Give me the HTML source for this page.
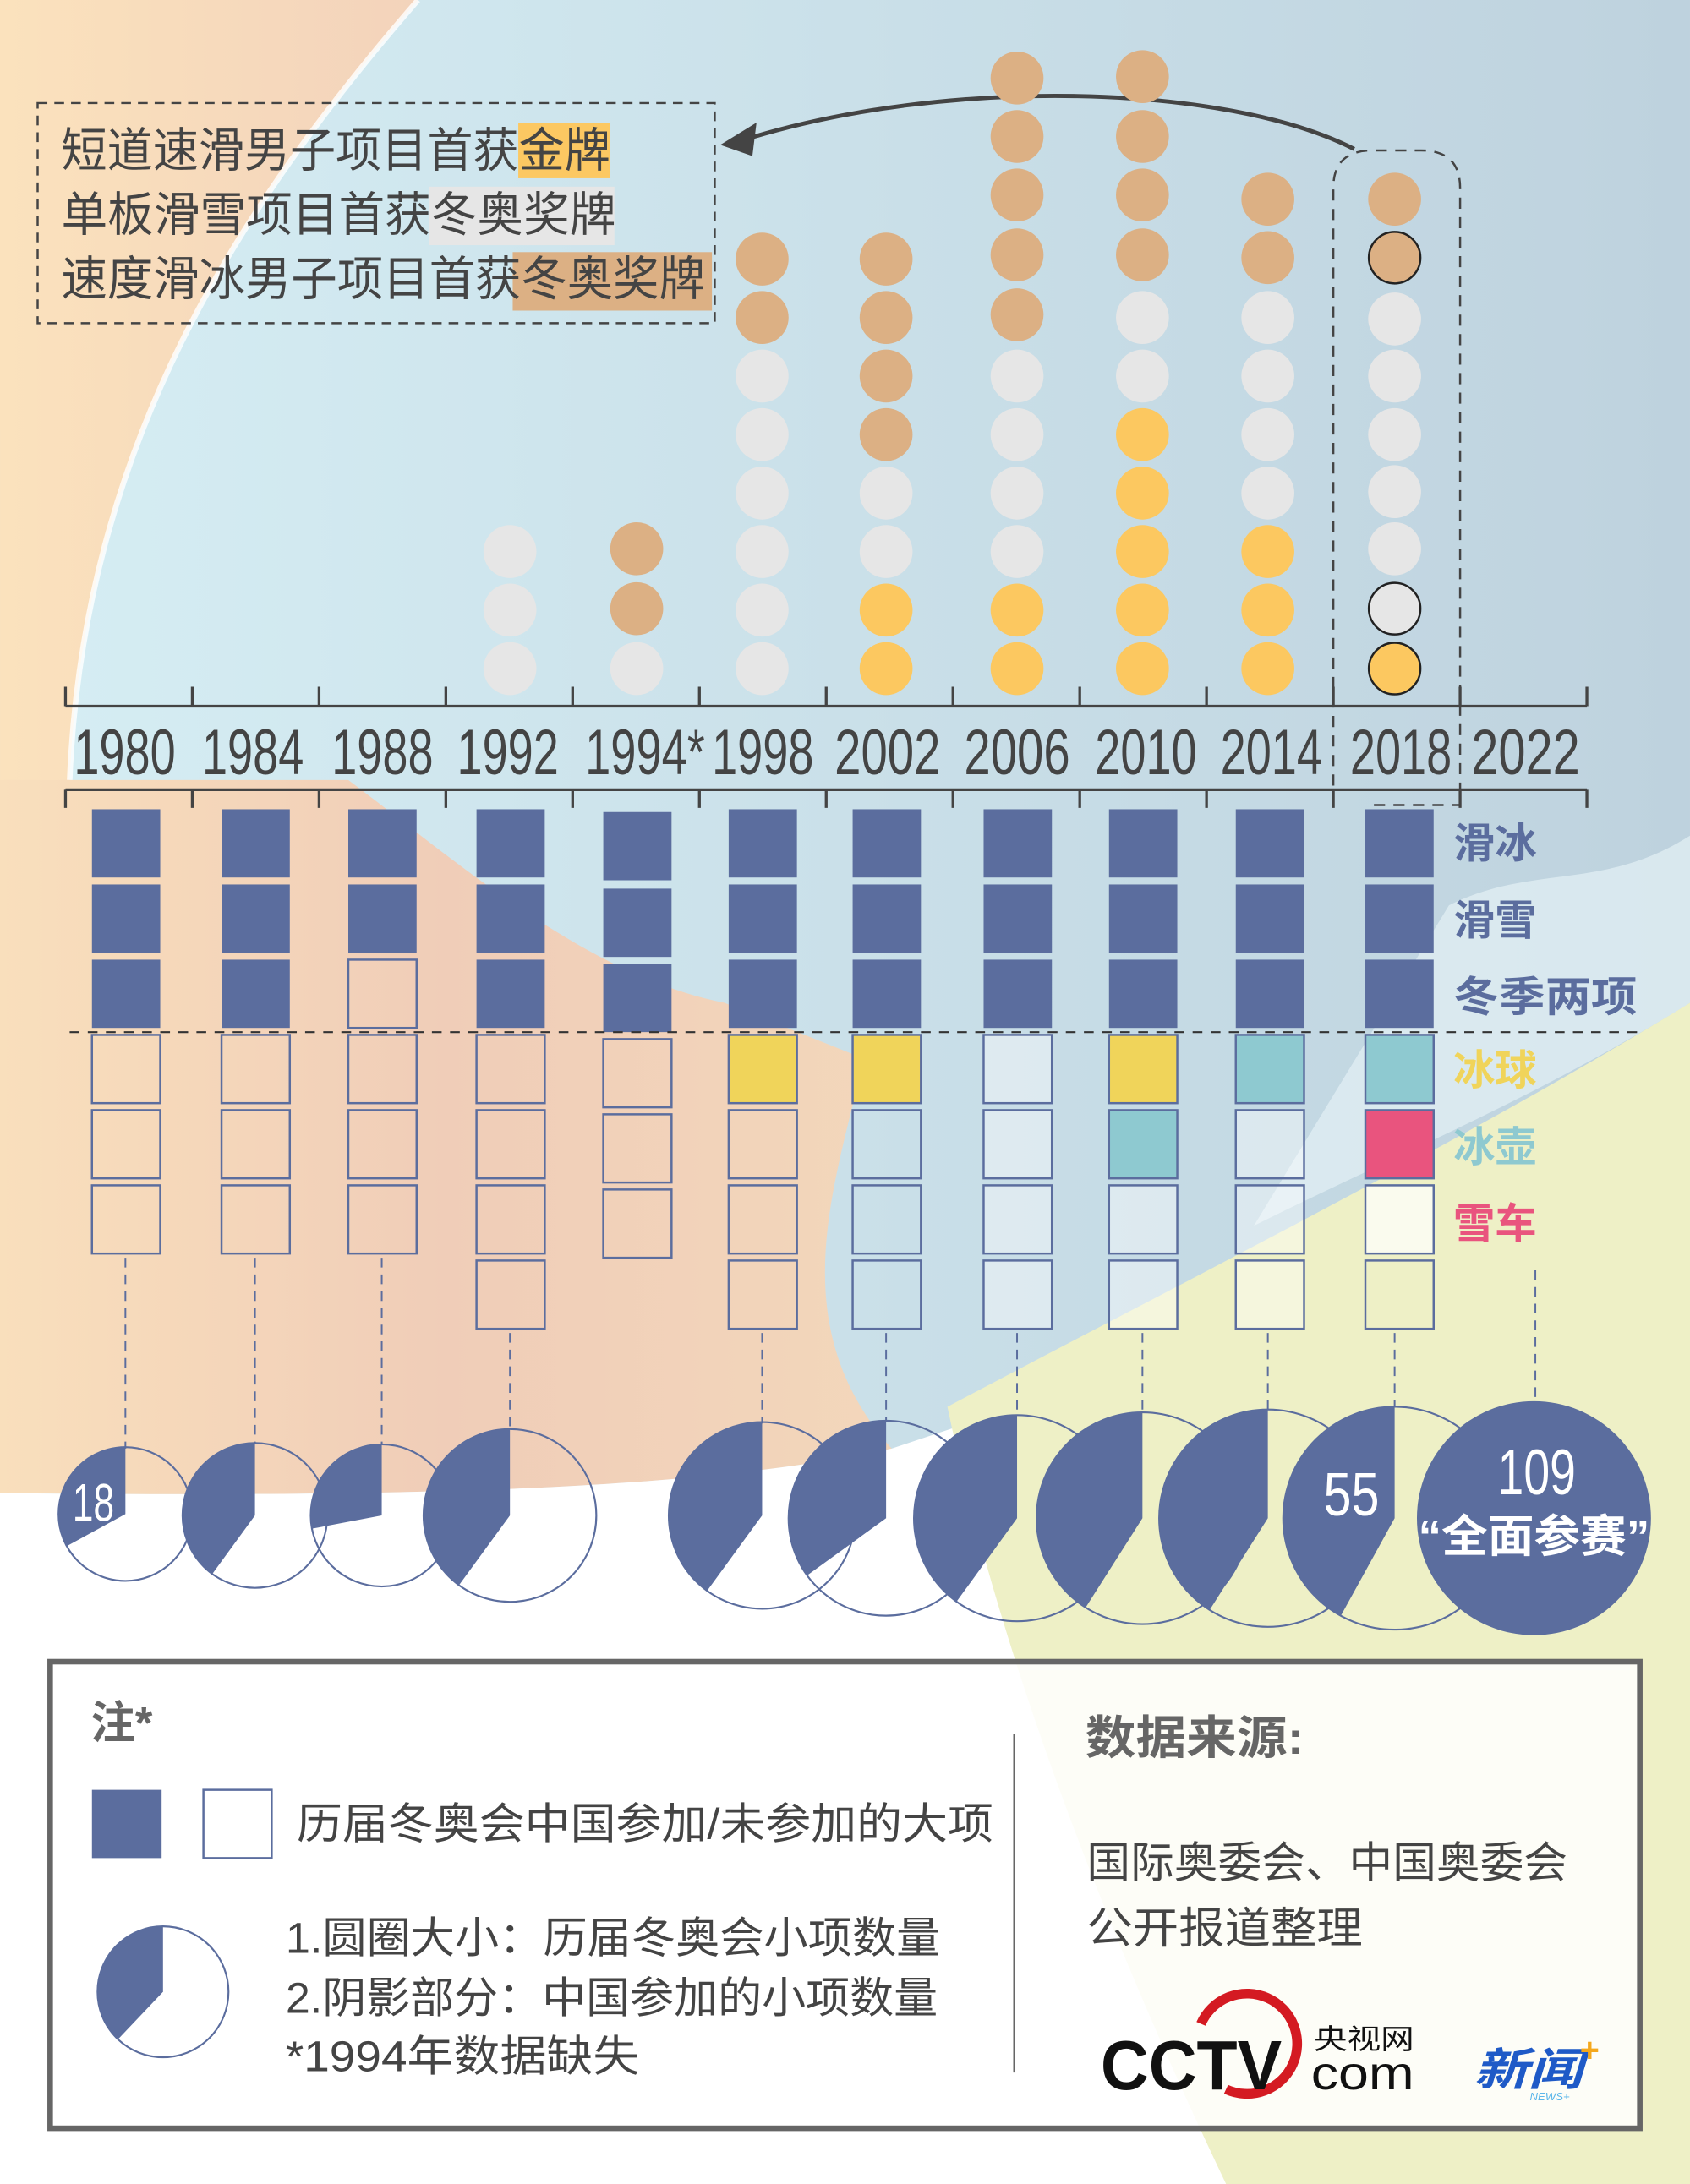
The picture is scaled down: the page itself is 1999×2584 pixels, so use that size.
<!DOCTYPE html>
<html><head><meta charset="utf-8">
<style>html,body{margin:0;padding:0;background:#fff}svg{display:block}</style>
</head><body>
<svg width="1999" height="2584" viewBox="0 0 1213 1568" xmlns="http://www.w3.org/2000/svg" font-family="'Liberation Sans','Noto Sans CJK SC',sans-serif">
<defs>
<linearGradient id="bg" x1="0" x2="1" y1="0" y2="0"><stop offset="0" stop-color="#d6eef4"/><stop offset="1" stop-color="#bed2de"/></linearGradient>
<linearGradient id="pe" x1="0" x2="1"><stop offset="0" stop-color="#fbe2bd"/><stop offset="1" stop-color="#f3d3bb"/></linearGradient>
<linearGradient id="pe2" x1="0" x2="1"><stop offset="0" stop-color="#f9dfbc"/><stop offset="0.5" stop-color="#f0cdb8"/><stop offset="1" stop-color="#f3d7bb"/></linearGradient>
</defs>
<rect width="1213" height="1568" fill="url(#bg)"/>
<!-- peach left strip -->
<path d="M0 0 L300 0 C170 150 60 320 50 560 C45 760 50 900 30 1080 L0 1080 Z" fill="url(#pe)"/>
<path d="M300 0 C170 150 60 320 50 560" fill="none" stroke="#fff" stroke-width="4" opacity="0.8"/>
<!-- lower left peach -->
<path d="M0 560 L250 560 C330 620 420 700 520 720 L620 760 C600 850 560 950 640 1040 C500 1070 300 1075 0 1072 Z" fill="url(#pe2)"/>
<!-- white bottom -->
<path d="M0 1072 C300 1075 500 1070 640 1040 L760 1000 L1213 1000 L1213 1568 L0 1568 Z" fill="#fff"/>
<!-- yellow-green -->
<path d="M680 1010 C850 920 1050 820 1213 720 L1213 1568 L880 1568 C800 1400 720 1200 680 1010 Z" fill="#eef0c6"/>
<path d="M1040 650 C1100 620 1150 640 1213 600 L1213 720 C1100 790 1000 830 900 880 Z" fill="#e4f1f5" opacity="0.7"/>

<!-- annotation -->
<rect x="27" y="74" width="486" height="158" fill="none" stroke="#444" stroke-width="1.5" stroke-dasharray="7 5"/>
<rect x="372" y="88" width="66" height="40" fill="#fcc862"/>
<rect x="308" y="134" width="133" height="42" fill="#e6e6e6"/>
<rect x="368" y="181" width="143" height="42" fill="#dcb084"/>
<g font-size="34" fill="#444">
<text x="44" y="120" textLength="394" lengthAdjust="spacingAndGlyphs">短道速滑男子项目首获金牌</text>
<text x="44" y="166" textLength="398" lengthAdjust="spacingAndGlyphs">单板滑雪项目首获冬奥奖牌</text>
<text x="44" y="212" textLength="462" lengthAdjust="spacingAndGlyphs">速度滑冰男子项目首获冬奥奖牌</text>
</g>
<path d="M972 107 C880 60 680 55 535 100" fill="none" stroke="#444" stroke-width="3"/>
<path d="M517 104 L543 88 L540 112 Z" fill="#444"/>

<!-- 2018 dashed box -->
<path d="M957 578 L957 135 Q957 108 985 108 L1020 108 Q1048 108 1048 135 L1048 578 L985 578" fill="none" stroke="#444" stroke-width="1.5" stroke-dasharray="8 6"/>

<!-- dots -->
<g>
<!-- 1992 -->
<circle cx="366" cy="480" r="19" fill="#e6e6e6"/><circle cx="366" cy="438" r="19" fill="#e6e6e6"/><circle cx="366" cy="396" r="19" fill="#e6e6e6"/>
<!-- 1994 -->
<circle cx="457" cy="480" r="19" fill="#e6e6e6"/><circle cx="457" cy="437" r="19" fill="#dcb084"/><circle cx="457" cy="394" r="19" fill="#dcb084"/>
<!-- 1998 -->
<circle cx="547" cy="480" r="19" fill="#e6e6e6"/><circle cx="547" cy="438" r="19" fill="#e6e6e6"/><circle cx="547" cy="396" r="19" fill="#e6e6e6"/><circle cx="547" cy="354" r="19" fill="#e6e6e6"/><circle cx="547" cy="312" r="19" fill="#e6e6e6"/><circle cx="547" cy="270" r="19" fill="#e6e6e6"/><circle cx="547" cy="228" r="19" fill="#dcb084"/><circle cx="547" cy="186" r="19" fill="#dcb084"/>
<!-- 2002 -->
<circle cx="636" cy="480" r="19" fill="#fcc860"/><circle cx="636" cy="438" r="19" fill="#fcc860"/><circle cx="636" cy="396" r="19" fill="#e6e6e6"/><circle cx="636" cy="354" r="19" fill="#e6e6e6"/><circle cx="636" cy="312" r="19" fill="#dcb084"/><circle cx="636" cy="270" r="19" fill="#dcb084"/><circle cx="636" cy="228" r="19" fill="#dcb084"/><circle cx="636" cy="186" r="19" fill="#dcb084"/>
<!-- 2006 -->
<circle cx="730" cy="480" r="19" fill="#fcc860"/><circle cx="730" cy="438" r="19" fill="#fcc860"/><circle cx="730" cy="396" r="19" fill="#e6e6e6"/><circle cx="730" cy="354" r="19" fill="#e6e6e6"/><circle cx="730" cy="312" r="19" fill="#e6e6e6"/><circle cx="730" cy="270" r="19" fill="#e6e6e6"/><circle cx="730" cy="226" r="19" fill="#dcb084"/><circle cx="730" cy="183" r="19" fill="#dcb084"/><circle cx="730" cy="140" r="19" fill="#dcb084"/><circle cx="730" cy="98" r="19" fill="#dcb084"/><circle cx="730" cy="56" r="19" fill="#dcb084"/>
<!-- 2010 -->
<circle cx="820" cy="480" r="19" fill="#fcc860"/><circle cx="820" cy="438" r="19" fill="#fcc860"/><circle cx="820" cy="396" r="19" fill="#fcc860"/><circle cx="820" cy="354" r="19" fill="#fcc860"/><circle cx="820" cy="312" r="19" fill="#fcc860"/><circle cx="820" cy="270" r="19" fill="#e6e6e6"/><circle cx="820" cy="228" r="19" fill="#e6e6e6"/><circle cx="820" cy="183" r="19" fill="#dcb084"/><circle cx="820" cy="140" r="19" fill="#dcb084"/><circle cx="820" cy="98" r="19" fill="#dcb084"/><circle cx="820" cy="55" r="19" fill="#dcb084"/>
<!-- 2014 -->
<circle cx="910" cy="480" r="19" fill="#fcc860"/><circle cx="910" cy="438" r="19" fill="#fcc860"/><circle cx="910" cy="396" r="19" fill="#fcc860"/><circle cx="910" cy="354" r="19" fill="#e6e6e6"/><circle cx="910" cy="312" r="19" fill="#e6e6e6"/><circle cx="910" cy="270" r="19" fill="#e6e6e6"/><circle cx="910" cy="228" r="19" fill="#e6e6e6"/><circle cx="910" cy="185" r="19" fill="#dcb084"/><circle cx="910" cy="143" r="19" fill="#dcb084"/>
<!-- 2018 -->
<circle cx="1001" cy="480" r="18.5" fill="#fcc860" stroke="#222" stroke-width="1.5"/><circle cx="1001" cy="437" r="18.5" fill="#e6e6e6" stroke="#222" stroke-width="1.5"/><circle cx="1001" cy="394" r="19" fill="#e6e6e6"/><circle cx="1001" cy="353" r="19" fill="#e6e6e6"/><circle cx="1001" cy="312" r="19" fill="#e6e6e6"/><circle cx="1001" cy="270" r="19" fill="#e6e6e6"/><circle cx="1001" cy="229" r="19" fill="#e6e6e6"/><circle cx="1001" cy="185" r="18.5" fill="#dcb084" stroke="#222" stroke-width="1.5"/><circle cx="1001" cy="143" r="19" fill="#dcb084"/>
</g>

<!-- axes -->
<g stroke="#444" stroke-width="2" fill="none">
<path d="M47 507 H1139 M47 493V507 M138 493V507 M229 493V507 M320 493V507 M411 493V507 M502 493V507 M593 493V507 M684 493V507 M775 493V507 M866 493V507 M957 493V507 M1048 493V507 M1139 493V507"/>
<path d="M47 567 H1139 M47 567V580 M138 567V580 M229 567V580 M320 567V580 M411 567V580 M502 567V580 M593 567V580 M684 567V580 M775 567V580 M866 567V580 M957 567V580 M1048 567V580 M1139 567V580"/>
</g>
<g font-size="46" fill="#444">
<text x="53" y="556" textLength="73" lengthAdjust="spacingAndGlyphs">1980</text>
<text x="145" y="556" textLength="73" lengthAdjust="spacingAndGlyphs">1984</text>
<text x="238" y="556" textLength="73" lengthAdjust="spacingAndGlyphs">1988</text>
<text x="328" y="556" textLength="73" lengthAdjust="spacingAndGlyphs">1992</text>
<text x="420" y="556" textLength="86" lengthAdjust="spacingAndGlyphs">1994*</text>
<text x="511" y="556" textLength="73" lengthAdjust="spacingAndGlyphs">1998</text>
<text x="599" y="556" textLength="76" lengthAdjust="spacingAndGlyphs">2002</text>
<text x="692" y="556" textLength="76" lengthAdjust="spacingAndGlyphs">2006</text>
<text x="786" y="556" textLength="73" lengthAdjust="spacingAndGlyphs">2010</text>
<text x="876" y="556" textLength="73" lengthAdjust="spacingAndGlyphs">2014</text>
<text x="969" y="556" textLength="73" lengthAdjust="spacingAndGlyphs">2018</text>
<text x="1056" y="556" textLength="78" lengthAdjust="spacingAndGlyphs">2022</text>
</g>

<!-- squares -->
<g stroke="#5b6d9e" stroke-width="1.5">
<!-- 1980 -->
<g fill="#5b6d9e" stroke="none"><rect x="66" y="581" width="49" height="49"/><rect x="66" y="635" width="49" height="49"/><rect x="66" y="689" width="49" height="49"/></g>
<g fill="none"><rect x="66" y="743" width="49" height="49"/><rect x="66" y="797" width="49" height="49"/><rect x="66" y="851" width="49" height="49"/></g>
<!-- 1984 -->
<g fill="#5b6d9e" stroke="none"><rect x="159" y="581" width="49" height="49"/><rect x="159" y="635" width="49" height="49"/><rect x="159" y="689" width="49" height="49"/></g>
<g fill="none"><rect x="159" y="743" width="49" height="49"/><rect x="159" y="797" width="49" height="49"/><rect x="159" y="851" width="49" height="49"/></g>
<!-- 1988 -->
<g fill="#5b6d9e" stroke="none"><rect x="250" y="581" width="49" height="49"/><rect x="250" y="635" width="49" height="49"/></g>
<g fill="none"><rect x="250" y="689" width="49" height="49"/><rect x="250" y="743" width="49" height="49"/><rect x="250" y="797" width="49" height="49"/><rect x="250" y="851" width="49" height="49"/></g>
<!-- 1992 -->
<g fill="#5b6d9e" stroke="none"><rect x="342" y="581" width="49" height="49"/><rect x="342" y="635" width="49" height="49"/><rect x="342" y="689" width="49" height="49"/></g>
<g fill="none"><rect x="342" y="743" width="49" height="49"/><rect x="342" y="797" width="49" height="49"/><rect x="342" y="851" width="49" height="49"/><rect x="342" y="905" width="49" height="49"/></g>
<!-- 1994 -->
<g fill="#5b6d9e" stroke="none"><rect x="433" y="583" width="49" height="49"/><rect x="433" y="638" width="49" height="49"/><rect x="433" y="692" width="49" height="49"/></g>
<g fill="none"><rect x="433" y="746" width="49" height="49"/><rect x="433" y="800" width="49" height="49"/><rect x="433" y="854" width="49" height="49"/></g>
<!-- 1998 -->
<g fill="#5b6d9e" stroke="none"><rect x="523" y="581" width="49" height="49"/><rect x="523" y="635" width="49" height="49"/><rect x="523" y="689" width="49" height="49"/></g>
<rect x="523" y="743" width="49" height="49" fill="#f0d45a"/>
<g fill="none"><rect x="523" y="797" width="49" height="49"/><rect x="523" y="851" width="49" height="49"/><rect x="523" y="905" width="49" height="49"/></g>
<!-- 2002 -->
<g fill="#5b6d9e" stroke="none"><rect x="612" y="581" width="49" height="49"/><rect x="612" y="635" width="49" height="49"/><rect x="612" y="689" width="49" height="49"/></g>
<rect x="612" y="743" width="49" height="49" fill="#f0d45a"/>
<g fill="none"><rect x="612" y="797" width="49" height="49"/><rect x="612" y="851" width="49" height="49"/><rect x="612" y="905" width="49" height="49"/></g>
<!-- 2006 -->
<g fill="#5b6d9e" stroke="none"><rect x="706" y="581" width="49" height="49"/><rect x="706" y="635" width="49" height="49"/><rect x="706" y="689" width="49" height="49"/></g>
<g fill="#fff" fill-opacity="0.4"><rect x="706" y="743" width="49" height="49"/><rect x="706" y="797" width="49" height="49"/><rect x="706" y="851" width="49" height="49"/><rect x="706" y="905" width="49" height="49"/></g>
<!-- 2010 -->
<g fill="#5b6d9e" stroke="none"><rect x="796" y="581" width="49" height="49"/><rect x="796" y="635" width="49" height="49"/><rect x="796" y="689" width="49" height="49"/></g>
<rect x="796" y="743" width="49" height="49" fill="#f0d45a"/>
<rect x="796" y="797" width="49" height="49" fill="#8ec9d0"/>
<g fill="#fff" fill-opacity="0.4"><rect x="796" y="851" width="49" height="49"/><rect x="796" y="905" width="49" height="49"/></g>
<!-- 2014 -->
<g fill="#5b6d9e" stroke="none"><rect x="887" y="581" width="49" height="49"/><rect x="887" y="635" width="49" height="49"/><rect x="887" y="689" width="49" height="49"/></g>
<rect x="887" y="743" width="49" height="49" fill="#8ec9d0"/>
<g fill="#fff" fill-opacity="0.4"><rect x="887" y="797" width="49" height="49"/><rect x="887" y="851" width="49" height="49"/><rect x="887" y="905" width="49" height="49"/></g>
<!-- 2018 -->
<g fill="#5b6d9e" stroke="none"><rect x="980" y="581" width="49" height="49"/><rect x="980" y="635" width="49" height="49"/><rect x="980" y="689" width="49" height="49"/></g>
<rect x="980" y="743" width="49" height="49" fill="#8ec9d0"/>
<rect x="980" y="797" width="49" height="49" fill="#e9547e"/>
<rect x="980" y="851" width="49" height="49" fill="#fff" fill-opacity="0.7"/>
<rect x="980" y="905" width="49" height="49" fill="none"/>
</g>
<line x1="50" y1="741" x2="1175" y2="741" stroke="#333" stroke-width="1.3" stroke-dasharray="7 6"/>
<g font-size="30" font-weight="bold">
<text x="1043" y="616" fill="#5b6d9e">滑冰</text>
<text x="1043" y="671" fill="#5b6d9e">滑雪</text>
<text x="1043" y="726" fill="#5b6d9e" textLength="132" lengthAdjust="spacingAndGlyphs">冬季两项</text>
<text x="1043" y="779" fill="#f0d45a">冰球</text>
<text x="1043" y="834" fill="#8ec9d0">冰壶</text>
<text x="1043" y="889" fill="#e9547e">雪车</text>
</g>

<!-- dashed verticals -->
<g stroke="#5b6d9e" stroke-width="1.2" stroke-dasharray="7 5">
<path d="M90 903V1040 M183 903V1036 M274 903V1037 M366 957V1026 M547 957V1022 M636 957V1020 M730 957V1016 M820 957V1014 M910 957V1012 M1001 957V1010 M1102 912V1006"/>
</g>

<!-- pies -->
<g fill="none" stroke="#5b6d9e" stroke-width="1.3">
<circle cx="90" cy="1087" r="48"/><circle cx="183" cy="1088" r="52"/><circle cx="274" cy="1088" r="51"/><circle cx="366" cy="1088" r="62"/>
<circle cx="547" cy="1088" r="67"/><circle cx="636" cy="1090" r="70"/><circle cx="730" cy="1090" r="74"/><circle cx="820" cy="1090" r="76"/><circle cx="910" cy="1090" r="78"/><circle cx="1001" cy="1090" r="80"/>
</g>
<g fill="#5b6d9e">
<path d="M90 1087 L90 1039 A48 48 0 0 0 48 1110 Z"/>
<path d="M183 1088 L183 1036 A52 52 0 0 0 152.4 1130 Z"/>
<path d="M274 1088 L274 1037 A51 51 0 0 0 224 1097.5 Z"/>
<path d="M366 1088 L366 1026 A62 62 0 0 0 329.5 1138 Z"/>
<path d="M547 1088 L547 1021 A67 67 0 0 0 507.6 1142 Z"/>
<path d="M636 1090 L636 1020 A70 70 0 0 0 579.4 1131 Z"/>
<path d="M730 1090 L730 1016 A74 74 0 0 0 686.5 1150 Z"/>
<path d="M820 1090 L820 1014 A76 76 0 0 0 779.3 1154 Z"/>
<path d="M910 1090 L910 1012 A78 78 0 0 0 868.2 1156 Z"/>
<path d="M1001 1090 L1001 1010 A80 80 0 0 0 962.4 1160 Z"/>
<circle cx="1101" cy="1090" r="84"/>
</g>
<g fill="#fff">
<text x="52" y="1092" font-size="38" textLength="30" lengthAdjust="spacingAndGlyphs">18</text>
<text x="950" y="1088" font-size="44" textLength="40" lengthAdjust="spacingAndGlyphs">55</text>
<text x="1075" y="1073" font-size="46" textLength="56" lengthAdjust="spacingAndGlyphs">109</text>
<text x="1018" y="1114" font-size="32" font-weight="bold" textLength="166" lengthAdjust="spacingAndGlyphs">“全面参赛”</text>
</g>

<!-- legend -->
<rect x="36" y="1193" width="1141" height="335" fill="#fff" fill-opacity="0.85" stroke="#666" stroke-width="4"/>
<text x="65" y="1248" font-size="32" font-weight="bold" fill="#666">注*</text>
<rect x="66" y="1285" width="50" height="49" fill="#5b6d9e"/>
<rect x="146" y="1285" width="49" height="49" fill="#fff" stroke="#5b6d9e" stroke-width="1.5"/>
<g font-size="31" fill="#444">
<text x="213" y="1320" textLength="500" lengthAdjust="spacingAndGlyphs">历届冬奥会中国参加/未参加的大项</text>
<text x="205" y="1402" textLength="470" lengthAdjust="spacingAndGlyphs">1.圆圈大小：历届冬奥会小项数量</text>
<text x="205" y="1445" textLength="468" lengthAdjust="spacingAndGlyphs">2.阴影部分：中国参加的小项数量</text>
<text x="205" y="1487" textLength="254" lengthAdjust="spacingAndGlyphs">*1994年数据缺失</text>
<text x="780" y="1348" textLength="345" lengthAdjust="spacingAndGlyphs">国际奥委会、中国奥委会</text>
<text x="780" y="1395" textLength="198" lengthAdjust="spacingAndGlyphs">公开报道整理</text>
</g>
<circle cx="117" cy="1430" r="47" fill="#fff" stroke="#5b6d9e" stroke-width="1.3"/>
<path d="M117 1430 L117 1383 A47 47 0 0 0 84.8 1464 Z" fill="#5b6d9e"/>
<line x1="728" y1="1245" x2="728" y2="1488" stroke="#666" stroke-width="1.5"/>
<text x="779" y="1259" font-size="33" font-weight="bold" fill="#666" textLength="157" lengthAdjust="spacingAndGlyphs">数据来源:</text>
<!-- logo -->
<path d="M880 1500 A36 36 0 1 0 862 1453" fill="none" stroke="#d41a22" stroke-width="7"/>
<text x="790" y="1500" font-size="50" font-weight="bold" fill="#111" textLength="130" lengthAdjust="spacingAndGlyphs">CCTV</text>
<text x="943" y="1471" font-size="20" fill="#111" textLength="72" lengthAdjust="spacingAndGlyphs">央视网</text>
<text x="941" y="1500" font-size="34" fill="#111" textLength="74" lengthAdjust="spacingAndGlyphs">com</text>
<text x="1058" y="1497" font-size="32" font-weight="bold" font-style="italic" fill="#1f5ac7" textLength="78" lengthAdjust="spacingAndGlyphs">新闻</text>
<text x="1134" y="1480" font-size="24" font-weight="bold" fill="#f5a81c">+</text>
<text x="1098" y="1508" font-size="8" fill="#5bb6ea" font-style="italic">NEWS+</text>
</svg>
</body></html>
